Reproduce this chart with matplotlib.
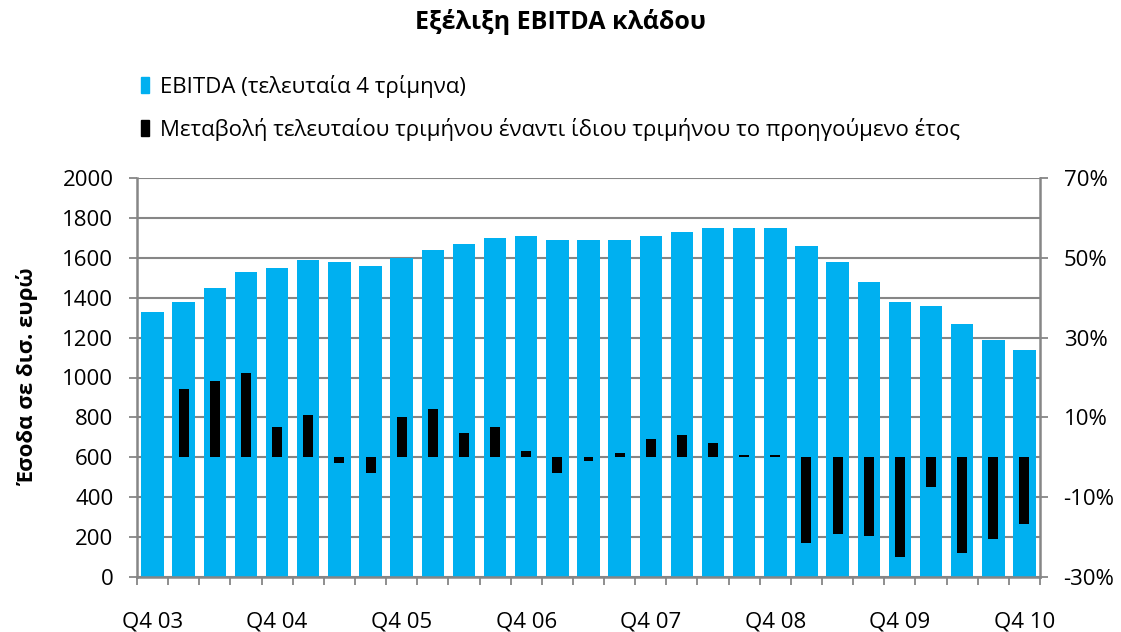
import numpy as np
import matplotlib
matplotlib.use("Agg")
import matplotlib.pyplot as plt
from matplotlib.patches import Patch
from matplotlib.ticker import FuncFormatter

plt.rcParams['font.family'] = ['Open Sans', 'DejaVu Sans']

# quarters Q4 03 .. Q4 10
quarters = ["Q4 03", "Q1 04", "Q2 04", "Q3 04",
            "Q4 04", "Q1 05", "Q2 05", "Q3 05",
            "Q4 05", "Q1 06", "Q2 06", "Q3 06",
            "Q4 06", "Q1 07", "Q2 07", "Q3 07",
            "Q4 07", "Q1 08", "Q2 08", "Q3 08",
            "Q4 08", "Q1 09", "Q2 09", "Q3 09",
            "Q4 09", "Q1 10", "Q2 10", "Q3 10",
            "Q4 10"]
ebitda = [1330, 1380, 1450, 1530, 1550, 1590, 1580, 1560,
          1600, 1640, 1670, 1700, 1710, 1690, 1690, 1690,
          1710, 1730, 1750, 1750, 1750, 1660, 1580, 1480,
          1380, 1360, 1270, 1190, 1140]
change_pct = [np.nan, 17.1, 19.1, 21.2, 7.5, 10.6, -1.5, -4.0,
              10.1, 12.2, 6.0, 7.5, 1.6, -4.0, -1.0, 1.0,
              4.6, 5.6, 3.6, 0.5, 0.5, -21.6, -19.1, -19.6,
              -25.1, -7.5, -24.1, -20.6, -16.6]
shown_labels = ["Q4 03", "Q4 04", "Q4 05", "Q4 06", "Q4 07", "Q4 08", "Q4 09", "Q4 10"]

blue = "#00B0F0"
grey = "#868686"
fs = 16

fig = plt.figure(figsize=(11.21, 6.32), dpi=100)
ax = fig.add_axes([137 / 1121, 1 - 577 / 632, (1040 - 137) / 1121, (577 - 178) / 632])
ax2 = ax.twinx()

x = np.arange(len(quarters))
ax.bar(x, ebitda, width=0.72, color=blue, zorder=2)
ax2.bar(x, change_pct, width=0.32, color="black", zorder=3)

ax.set_xlim(-0.5, len(quarters) - 0.5)
ax.set_ylim(0, 2000)
ax.set_yticks(range(0, 2001, 200))
ax2.set_ylim(-30, 70)
ax2.set_yticks(range(-30, 71, 20))
ax2.yaxis.set_major_formatter(FuncFormatter(lambda v, p: f"{int(v)}%"))

ax.grid(axis="y", color=grey, linewidth=1.5, zorder=0)
ax.set_axisbelow(True)

# category labels every 4 quarters, tick marks on category boundaries
pos = [quarters.index(q) for q in shown_labels]
ax.set_xticks(pos)
ax.set_xticklabels(shown_labels)
ax.set_xticks(np.arange(-0.5, len(quarters)), minor=True)
ax.tick_params(axis="x", which="major", length=0, pad=25, labelsize=fs)
ax.tick_params(axis="x", which="minor", length=6, width=1.3, color=grey)
ax.tick_params(axis="y", length=6, width=1.3, color=grey, labelsize=fs, pad=11)
ax2.tick_params(axis="y", length=6, width=1.3, color=grey, labelsize=fs, pad=11)

for a in (ax, ax2):
    for s in a.spines.values():
        s.set_visible(False)
ax.spines["left"].set_visible(True)
ax.spines["bottom"].set_visible(True)
ax2.spines["right"].set_visible(True)
for s in (ax.spines["left"], ax.spines["bottom"], ax2.spines["right"]):
    s.set_color(grey)
    s.set_linewidth(1.8)

ax.set_ylabel("Έσοδα σε δισ. ευρώ", fontsize=fs, fontweight="bold")
ax.yaxis.set_label_coords(-0.109, 0.5)

fig.suptitle("Εξέλιξη EBITDA κλάδου", fontsize=18, fontweight="bold", y=0.985)

handles = [Patch(color=blue), Patch(color="black")]
labels = ["EBITDA (τελευταία 4 τρίμηνα)",
          "Μεταβολή τελευταίου τριμήνου έναντι ίδιου τριμήνου το προηγούμενο έτος"]
fig.legend(handles, labels, loc="upper left", bbox_to_anchor=(121 / 1121, 1 - 55 / 632),
           frameon=False, fontsize=fs, handlelength=0.35, handleheight=0.7,
           handletextpad=0.5, labelspacing=0.9)

fig.savefig("out.png", dpi=100)
